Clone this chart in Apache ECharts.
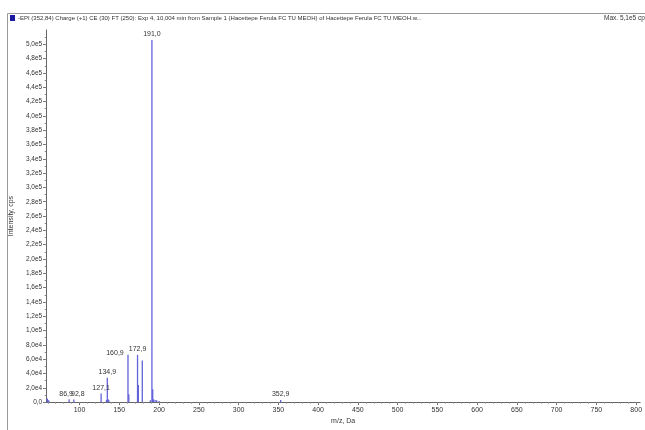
<!DOCTYPE html>
<html><head><meta charset="utf-8">
<script src="https://cdn.jsdelivr.net/npm/echarts@6/dist/echarts.min.js"></script>
<style>html,body{margin:0;padding:0;background:#fff}#c{width:645px;height:430px}</style>
</head><body><div id="c"></div>
<script>
// data
var mz = [59.5, 60.5, 61.5, 86.9, 92.8, 127.1, 133.9, 134.9, 135.9, 136.9, 160.9, 161.9, 172.9, 173.9, 178.9, 189.0, 191.0, 192.0, 193.0, 195.0, 197.0, 200.0, 352.9];
var intensity = [5000, 3000, 2000, 4000, 3500, 12000, 3000, 34000, 4000, 2500, 66000, 11000, 66000, 24000, 58000, 2500, 506000, 18000, 4000, 3000, 2500, 1500, 3000];
var peakLabels = {"86.9":"86,9", "92.8":"92,8", "127.1":"127,1", "134.9":"134,9", "160.9":"160,9", "172.9":"172,9", "191":"191,0", "352.9":"352,9"};
var xTickValues = [100,150,200,250,300,350,400,450,500,550,600,650,700,750,800];
var yTickValues = [0,20000,40000,60000,80000,100000,120000,140000,160000,180000,200000,220000,240000,260000,280000,300000,320000,340000,360000,380000,400000,420000,440000,460000,480000,500000];
var titleText = "-EPI (352,84) Charge (+1) CE (30) FT (250): Exp 4, 10,004 min from Sample 1 (Hacettepe Ferula FC TU MEOH) of Hacettepe Ferula FC TU MEOH.w...";
var maxText = "Max. 5,1e5 cps";

function fmtY(v){
  if (v === 0) return "0,0";
  var e = Math.floor(Math.log10(v));
  var m = v / Math.pow(10, e);
  return m.toFixed(1).replace('.', ',') + 'e' + e;
}
var xMinor = [], yMinor = [];
for (var i = 60; i <= 800; i += 10) xMinor.push(i);
for (var j = 0; j <= 510000; j += 10000) yMinor.push(j);

var FONT = "Liberation Sans";
var data = mz.map(function(x, k){
  var key = String(x);
  var item = {value: [x, intensity[k]]};
  if (peakLabels[key]) {
    var lbl = {show: true, position: 'top', formatter: peakLabels[key], fontSize: 7, color: '#333', fontFamily: FONT, distance: 2};
    if (key === "160.9") lbl.offset = [-13, 4];
    if (key === "86.9") lbl.offset = [-3, 0];
    if (key === "92.8") lbl.offset = [4, 0];
    item.label = lbl;
  }
  return item;
});

var chart = echarts.init(document.getElementById('c'), null, {renderer: 'canvas'});
chart.setOption({
  animation: false,
  grid: {left: 43, right: 0, top: 30, bottom: 15},
  xAxis: [{
    type: 'value', min: 58, max: 805,
    axisLine: {lineStyle: {color: '#666', width: 1}},
    axisTick: {customValues: xTickValues, length: 3, lineStyle: {color: '#666'}},
    axisLabel: {customValues: xTickValues, fontSize: 7, color: '#333', fontFamily: FONT, margin: 4},
    splitLine: {show: false},
    name: 'm/z, Da', nameLocation: 'middle', nameGap: 14,
    nameTextStyle: {fontSize: 7, color: '#333', fontFamily: FONT}
  }, {
    type: 'value', min: 58, max: 805, position: 'bottom',
    axisLine: {show: false},
    axisTick: {customValues: xMinor, length: 1.5, lineStyle: {color: '#888'}},
    axisLabel: {show: false}, splitLine: {show: false}
  }],
  yAxis: [{
    type: 'value', min: 0, max: 520000,
    axisLine: {show: true, lineStyle: {color: '#666', width: 1}},
    axisTick: {show: true, customValues: yTickValues, length: 3, lineStyle: {color: '#666'}},
    axisLabel: {customValues: yTickValues, fontSize: 6.5, color: '#333', fontFamily: FONT, margin: 4, formatter: fmtY},
    splitLine: {show: false},
    name: 'Intensity, cps', nameLocation: 'middle', nameGap: 30, nameRotate: 90,
    nameTextStyle: {fontSize: 7, color: '#333', fontFamily: FONT}
  }, {
    type: 'value', min: 0, max: 520000, position: 'left',
    axisLine: {show: false},
    axisTick: {show: true, customValues: yMinor, length: 1.5, lineStyle: {color: '#888'}},
    axisLabel: {show: false}, splitLine: {show: false}
  }],
  graphic: [
    {type: 'line', shape: {x1: 7.5, y1: 13.5, x2: 645, y2: 13.5}, style: {stroke: '#999', lineWidth: 1}},
    {type: 'line', shape: {x1: 7.5, y1: 13.5, x2: 7.5, y2: 430}, style: {stroke: '#999', lineWidth: 1}},
    {type: 'rect', shape: {x: 10, y: 15, width: 5, height: 6}, style: {fill: '#1a1aa0'}},
    {type: 'text', x: 18, y: 18.5, style: {text: titleText, fill: '#333', font: '6px "Liberation Sans"', verticalAlign: 'middle'}},
    {type: 'text', x: 604, y: 18.5, style: {text: maxText, fill: '#333', font: '6.5px "Liberation Sans"', verticalAlign: 'middle'}}
  ],
  series: [{
    type: 'bar', xAxisIndex: 0, yAxisIndex: 0,
    barWidth: 1.3, barGap: '-100%',
    itemStyle: {color: '#6262d8'},
    data: data
  }]
});
</script></body></html>
